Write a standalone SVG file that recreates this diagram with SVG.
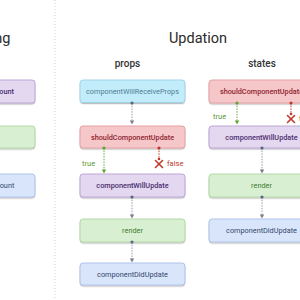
<svg xmlns="http://www.w3.org/2000/svg" width="300" height="300" viewBox="0 0 300 300">
<style>
text{font-family:Roboto,"Liberation Sans",sans-serif}
.title{font-size:14.5px;fill:#2b2b2b}
.sub{font-size:10px;font-weight:500;fill:#333}
.lbl{font-size:7.3px;text-anchor:middle}
.box{stroke-width:1}
.cyan{fill:#c3ecfa;stroke:#9ed4ea}
.pink{fill:#f6c7c9;stroke:#e3a0a4}
.purple{fill:#e4d7f0;stroke:#bda6d6}
.green{fill:#d9efd2;stroke:#b3d8a6}
.blue{fill:#d9e5fa;stroke:#afc3ea}
.tcyan{fill:#4f7d92}
.tpink{fill:#8e2430;font-weight:500}
.tpurple{fill:#4a2d6e;font-weight:500}
.tgreen{fill:#3f7a2f}
.tblue{fill:#34476e}
.ln{stroke:#9a9aa8;stroke-width:1;stroke-dasharray:1.5 1.2;fill:none}
.lg{stroke:#6aa83a;stroke-width:1;stroke-dasharray:1.5 1.2;fill:none}
.lr{stroke:#c0392b;stroke-width:1;stroke-dasharray:1.5 1.2;fill:none}
.dot{fill:#5a6685}
.dg{fill:#5fa62e}
.dr{fill:#c0392b}
.t{font-size:7.5px;fill:#5b9a34}
.f{font-size:7.5px;fill:#c0392b}
</style>
<defs>
<filter id="sh" x="-10%" y="-20%" width="120%" height="160%">
<feDropShadow dx="0" dy="1.2" stdDeviation="0.6" flood-color="#000" flood-opacity="0.25"/>
</filter>
</defs>
<rect width="300" height="300" fill="#fff"/>
<line x1="55" y1="0" x2="55" y2="300" stroke="#cdd9c8" stroke-width="1" stroke-dasharray="1 2"/>
<text class="title" x="10.5" y="43" text-anchor="end">Mounting</text>
<text class="title" x="198" y="43" text-anchor="middle">Updation</text>
<text class="sub" x="127.5" y="67" text-anchor="middle">props</text>
<text class="sub" x="262" y="67" text-anchor="middle">states</text>

<g id="m-willmount"><rect class="box purple" x="-70" y="80" width="105" height="23" rx="3" filter="url(#sh)"/><text class="lbl tpurple" x="-21" y="94" font-weight="400">componentWillMount</text></g>
<g id="m-render"><rect class="box green" x="-70" y="126" width="105" height="22" rx="3" filter="url(#sh)"/></g>
<g id="m-didmount"><rect class="box blue" x="-70" y="174" width="105" height="23" rx="3" filter="url(#sh)"/><text class="lbl tblue" x="-20" y="188">componentDidMount</text></g>

<g id="p-receive"><rect class="box cyan" x="80" y="80" width="105" height="22.5" rx="3" filter="url(#sh)"/><text class="lbl tcyan" x="132.5" y="94">componentWillReceiveProps</text></g>
<g id="p-should"><rect class="box pink" x="80" y="126" width="105" height="22" rx="3" filter="url(#sh)"/><text class="lbl tpink" x="132.5" y="139.6">shouldComponentUpdate</text></g>
<g id="p-will"><rect class="box purple" x="80" y="174" width="105" height="23" rx="3" filter="url(#sh)"/><text class="lbl tpurple" x="132.5" y="188">componentWillUpdate</text></g>
<g id="p-render"><rect class="box green" x="80" y="219" width="105" height="23" rx="3" filter="url(#sh)"/><text class="lbl tgreen" x="132.5" y="233">render</text></g>
<g id="p-did"><rect class="box blue" x="80" y="263" width="105" height="22" rx="3" filter="url(#sh)"/><text class="lbl tblue" x="132.5" y="276.6">componentDidUpdate</text></g>

<g id="s-should"><rect class="box pink" x="209" y="80" width="105" height="23" rx="3" filter="url(#sh)"/><text class="lbl tpink" x="261.5" y="94">shouldComponentUpdate</text></g>
<g id="s-will"><rect class="box purple" x="209" y="126" width="105" height="22" rx="3" filter="url(#sh)"/><text class="lbl tpurple" x="261.5" y="139.6">componentWillUpdate</text></g>
<g id="s-render"><rect class="box green" x="209" y="174" width="105" height="23" rx="3" filter="url(#sh)"/><text class="lbl tgreen" x="261.5" y="188">render</text></g>
<g id="s-did"><rect class="box blue" x="209" y="219" width="105" height="23" rx="3" filter="url(#sh)"/><text class="lbl tblue" x="261.5" y="233">componentDidUpdate</text></g>

<g id="connectors">
<line class="ln" x1="132" y1="103" x2="132" y2="122"/><circle class="dot" cx="132" cy="103" r="1.6"/><path d="M129.8,120.5 L134.2,120.5 L132,124.5 Z" fill="#7d7d8c"/>
<line class="lg" x1="104" y1="148" x2="104" y2="171"/><circle class="dg" cx="104" cy="148" r="1.6"/><path d="M101.8,169.5 L106.2,169.5 L104,173.5 Z" fill="#5fa62e"/>
<text class="t" x="82" y="166">true</text>
<line class="lr" x1="159" y1="148" x2="159" y2="158"/><circle class="dr" cx="159" cy="148" r="1.6"/>
<g stroke="#c0392b" stroke-width="1.6" stroke-linecap="round"><line x1="155.5" y1="160.5" x2="162.5" y2="167.5"/><line x1="162.5" y1="160.5" x2="155.5" y2="167.5"/></g><circle cx="159" cy="159" r="1.3" fill="#c0392b"/>
<text class="f" x="167" y="166">false</text>
<line class="ln" x1="132" y1="197" x2="132" y2="216"/><circle class="dot" cx="132" cy="197" r="1.6"/><path d="M129.8,214.5 L134.2,214.5 L132,218.5 Z" fill="#7d7d8c"/>
<line class="ln" x1="132" y1="242" x2="132" y2="260"/><circle class="dot" cx="132" cy="242" r="1.6"/><path d="M129.8,258.5 L134.2,258.5 L132,262.5 Z" fill="#7d7d8c"/>

<line class="lg" x1="237" y1="103" x2="237" y2="122"/><circle class="dg" cx="237" cy="103" r="1.6"/><path d="M234.8,120.5 L239.2,120.5 L237,124.5 Z" fill="#5fa62e"/>
<text class="t" x="213" y="119">true</text>
<line class="lr" x1="291" y1="103" x2="291" y2="113"/><circle class="dr" cx="291" cy="103" r="1.6"/>
<g stroke="#c0392b" stroke-width="1.6" stroke-linecap="round"><line x1="287.5" y1="115.5" x2="294.5" y2="122.5"/><line x1="294.5" y1="115.5" x2="287.5" y2="122.5"/></g><circle cx="291" cy="114" r="1.3" fill="#c0392b"/>
<text class="f" x="299" y="121">false</text>
<line class="ln" x1="262" y1="148" x2="262" y2="171"/><circle class="dot" cx="262" cy="148" r="1.6"/><path d="M259.8,169.5 L264.2,169.5 L262,173.5 Z" fill="#7d7d8c"/>
<line class="ln" x1="262" y1="197" x2="262" y2="216"/><circle class="dot" cx="262" cy="197" r="1.6"/><path d="M259.8,214.5 L264.2,214.5 L262,218.5 Z" fill="#7d7d8c"/>
</g>
</svg>
